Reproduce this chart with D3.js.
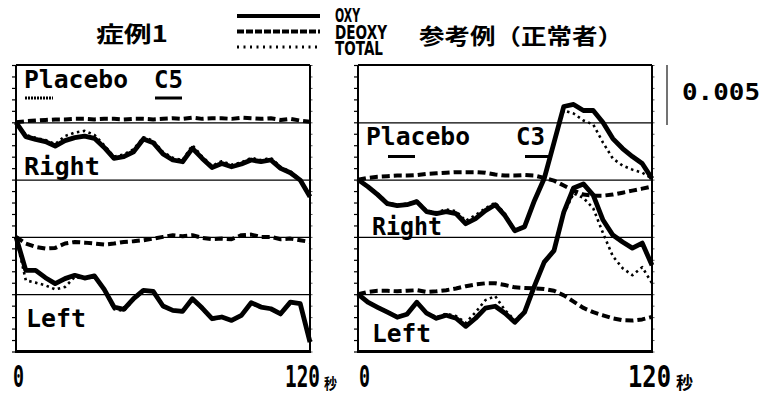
<!DOCTYPE html>
<html>
<head>
<meta charset="utf-8">
<script src="https://cdn.jsdelivr.net/npm/d3@7"></script>
<style>
  body { margin: 0; background: #fff; }
  svg { display: block; }
</style>
</head>
<body>
<svg id="chart" width="762" height="393"></svg>
<script>
// time axis (seconds), every 4 s
const times = [0, 4, 8, 12, 16, 20, 24, 28, 32, 36, 40, 44, 48, 52, 56, 60,
  64, 68, 72, 76, 80, 84, 88, 92, 96, 100, 104, 108, 112, 116, 120]

// values in units of 0.001, relative to each trace's baseline
// 症例1 - Right
const case1RightOxy = [0, -1.25, -1.49, -1.69, -2.07, -1.60, -1.34, -1.20, -1.40, -2.19, -3.15, -3.00, -2.57, -1.46, -1.78, -2.77,
  -3.29, -3.44, -2.27, -3.15, -3.94, -3.59, -3.88, -3.64, -3.29, -3.44, -3.29, -4.02, -4.40, -5.04, -6.50]
const case1RightDeoxy = [0, 0.1, 0.15, 0.2, 0.25, 0.25, 0.3, 0.3, 0.25, 0.3, 0.3, 0.25, 0.3, 0.3, 0.25, 0.3,
  0.35, 0.3, 0.4, 0.3, 0.35, 0.35, 0.3, 0.4, 0.35, 0.3, 0.35, 0.2, 0.3, 0.15, 0.05]
const case1RightTotal = [0, -1.1, -1.35, -1.55, -1.9, -1.2, -0.9, -0.75, -1.1, -2.0, -3.0, -2.8, -2.35, -1.3, -1.6, -2.6,
  -3.1, -3.3, -2.0, -3.0, -3.8, -3.4, -3.7, -3.5, -3.1, -3.3, -3.1, -3.9, -4.3, -5.0, -6.4]
// 症例1 - Left
const case1LeftOxy = [0, -2.92, -2.92, -3.56, -4.08, -3.64, -3.35, -3.59, -3.4, -4.58, -6.12, -6.33, -5.39, -4.66, -4.75, -6.03,
  -6.41, -6.50, -5.39, -6.21, -7.14, -6.99, -7.29, -6.85, -5.74, -6.12, -6.27, -6.71, -5.69, -5.83, -9.18]
const case1LeftDeoxy = [0, -0.58, -0.87, -1.02, -0.96, -0.58, -0.44, -0.5, -0.58, -0.67, -0.58, -0.44, -0.38, -0.29, -0.15, 0,
  0.15, 0.06, 0.15, -0.09, -0.2, -0.15, -0.2, 0.15, 0.2, 0, 0, -0.2, -0.15, -0.29, -0.44]
const case1LeftTotal = [0, -3.79, -3.99, -4.23, -4.58, -4.37, -3.5, -3.65, -3.5, -4.65, -6.3, -6.45, -5.5, -4.7, -4.8, -6.1,
  -6.45, -6.55, -5.45, -6.3, -7.2, -7.05, -7.3, -6.9, -5.8, -6.2, -6.3, -6.8, -5.75, -5.9, -9.1]
// 参考例 - Right
const refRightOxy = [0, -0.61, -1.31, -2.10, -2.27, -2.19, -1.92, -2.80, -2.97, -2.80, -2.97, -3.85, -3.41, -2.71, -2.19, -3.15,
  -4.46, -4.11, -1.84, 0.09, 3.23, 6.38, 6.56, 6.03, 6.03, 4.98, 3.58, 2.71, 2.01, 1.40, 0.09]
const refRightDeoxy = [0, 0.15, 0.25, 0.3, 0.35, 0.35, 0.4, 0.5, 0.55, 0.6, 0.65, 0.65, 0.65, 0.6, 0.45, 0.35,
  0.35, 0.4, 0.35, 0.15, -0.09, -0.52, -0.96, -1.31, -1.40, -1.40, -1.31, -1.14, -0.96, -0.79, -0.61]
const refRightTotal = [0, -0.55, -1.2, -2.0, -2.2, -2.1, -1.85, -2.7, -2.85, -2.6, -2.75, -3.6, -3.1, -2.5, -2.0, -3.0,
  -4.4, -4.05, -1.8, 0.1, 3.2, 6.03, 5.77, 5.16, 4.81, 3.23, 1.84, 1.22, 0.87, 0.61, 0.09]
// 参考例 - Left
const refLeftOxy = [0, -0.70, -1.14, -1.57, -2.01, -1.75, -0.70, -1.66, -2.10, -1.84, -2.10, -2.80, -2.10, -1.22, -1.05, -1.66,
  -2.45, -1.57, 0.70, 2.80, 3.8, 7.17, 9.27, 9.62, 8.65, 6.47, 5.16, 4.55, 4.02, 4.46, 2.53]
const refLeftDeoxy = [0, 0.2, 0.3, 0.3, 0.25, 0.3, 0.35, 0.2, 0.25, 0.35, 0.5, 0.7, 0.85, 0.95, 0.95, 0.8,
  0.6, 0.55, 0.5, 0.45, 0.3, -0.1, -0.65, -1.2, -1.57, -1.84, -2.1, -2.27, -2.3, -2.2, -1.98]
const refLeftTotal = [0, -0.65, -1.1, -1.5, -1.95, -1.7, -0.75, -1.6, -2.0, -1.7, -1.9, -2.5, -1.57, -0.52, -0.17, -1.40,
  -2.27, -1.5, 0.7, 2.8, 3.8, 7.0, 8.8, 8.4, 7.5, 5.33, 3.32, 2.27, 1.66, 2.36, 0.96]

const legendLabels = ['OXY', 'DEOXY', 'TOTAL']
const scaleValue = '0.005'

const svg = d3.select('#chart')
const plotTop = 65
const plotBottom = 351.5
const mono = '"DejaVu Sans Mono", monospace'
const cjk = '"Noto Sans CJK JP", sans-serif'

// y in units of 0.001, 5 bands of 5 units
const y = d3.scaleLinear().domain([0, 25]).range([plotBottom, plotTop])

const styles = {
  total: { width: 2.6, dash: '2.5 3.5' },
  deoxy: { width: 4, dash: '8 4' },
  oxy: { width: 4.8, dash: null }
}

const panels = [
  {
    x0: 16, x1: 310,
    traces: [
      { base: 20, oxy: case1RightOxy, deoxy: case1RightDeoxy, total: case1RightTotal },
      { base: 10, oxy: case1LeftOxy, deoxy: case1LeftDeoxy, total: case1LeftTotal }
    ]
  },
  {
    x0: 358, x1: 652,
    traces: [
      { base: 15, oxy: refRightOxy, deoxy: refRightDeoxy, total: refRightTotal },
      { base: 5, oxy: refLeftOxy, deoxy: refLeftDeoxy, total: refLeftTotal }
    ]
  }
]

function label(txt, x, yy, size, len, family, weight) {
  return svg.append('text')
    .attr('x', x)
    .attr('y', yy)
    .attr('font-family', family || mono)
    .attr('font-weight', weight || 'bold')
    .attr('font-size', size)
    .attr('textLength', len)
    .attr('lengthAdjust', 'spacingAndGlyphs')
    .attr('fill', '#000')
    .text(txt)
}

panels.forEach(p => {
  const x = d3.scaleLinear().domain([0, 120]).range([p.x0, p.x1])
  const w = p.x1 - p.x0

  // gridlines
  svg.append('g')
    .attr('transform', `translate(${p.x0},0)`)
    .call(d3.axisLeft(y).tickValues([5, 10, 15, 20]).tickSize(-w).tickFormat(''))
    .call(g => g.select('.domain').remove())
    .selectAll('line').attr('stroke', '#000').attr('stroke-width', 1.2)

  // small ticks on left edge
  svg.append('g')
    .attr('transform', `translate(${p.x0},0)`)
    .call(d3.axisLeft(y).tickValues(d3.range(0, 26)).tickSize(4).tickFormat(''))
    .call(g => g.select('.domain').remove())
    .selectAll('line').attr('stroke', '#000').attr('stroke-width', 1.2)

  // small ticks on right edge
  svg.append('g')
    .attr('transform', `translate(${p.x1},0)`)
    .call(d3.axisRight(y).tickValues(d3.range(0, 26)).tickSize(2.5).tickFormat(''))
    .call(g => g.select('.domain').remove())
    .selectAll('line').attr('stroke', '#555').attr('stroke-width', 1)

  // traces
  p.traces.forEach(t => {
    ['total', 'deoxy', 'oxy'].forEach(k => {
      const line = d3.line()
        .x((d, i) => x(times[i]))
        .y(d => y(t.base + d))
      svg.append('path')
        .datum(t[k])
        .attr('d', line)
        .attr('fill', 'none')
        .attr('stroke', '#000')
        .attr('stroke-width', styles[k].width)
        .attr('stroke-dasharray', styles[k].dash)
        .attr('stroke-linejoin', 'round')
    })
  })

  // frame
  svg.append('line').attr('x1', p.x0).attr('x2', p.x1).attr('y1', plotTop).attr('y2', plotTop)
    .attr('stroke', '#000').attr('stroke-width', 2)
  svg.append('line').attr('x1', p.x0 - 1).attr('x2', p.x1 + 1).attr('y1', plotBottom).attr('y2', plotBottom)
    .attr('stroke', '#000').attr('stroke-width', 2.8)
  svg.append('line').attr('x1', p.x0).attr('x2', p.x0).attr('y1', plotTop).attr('y2', plotBottom)
    .attr('stroke', '#000').attr('stroke-width', 2)
  svg.append('line').attr('x1', p.x1).attr('x2', p.x1).attr('y1', plotTop).attr('y2', plotBottom)
    .attr('stroke', '#000').attr('stroke-width', 2)
})

// panel labels - 症例1
label('Placebo', 24, 88, 24, 104)
label('C5', 154, 88, 24, 29)
svg.append('line').attr('x1', 25).attr('x2', 53).attr('y1', 98).attr('y2', 98)
  .attr('stroke', '#000').attr('stroke-width', 3).attr('stroke-dasharray', '2 1')
svg.append('line').attr('x1', 155).attr('x2', 182).attr('y1', 98).attr('y2', 98)
  .attr('stroke', '#000').attr('stroke-width', 3)
label('Right', 24, 175, 24, 76)
label('Left', 26, 327, 24, 60)

// panel labels - 参考例
label('Placebo', 366, 145, 24, 104)
label('C3', 516, 145, 24, 29)
svg.append('line').attr('x1', 388).attr('x2', 415).attr('y1', 156.5).attr('y2', 156.5)
  .attr('stroke', '#000').attr('stroke-width', 3)
svg.append('line').attr('x1', 525).attr('x2', 550).attr('y1', 156.5).attr('y2', 156.5)
  .attr('stroke', '#000').attr('stroke-width', 3)
label('Right', 372, 235, 24, 70)
label('Left', 372, 342, 24, 59)

// titles
label('症例1', 96, 42, 22, 72, cjk, 'bold')
label('参考例（正常者）', 419, 44, 22, 204, cjk, 'bold')

// legend
const legendKeys = ['oxy', 'deoxy', 'total']
const legendY = d3.scalePoint().domain(legendKeys).range([16, 47])
const legendBase = { OXY: 22, DEOXY: 39, TOTAL: 55 }
const legendLen = { OXY: 25, DEOXY: 52, TOTAL: 48 }
legendKeys.forEach((k, i) => {
  svg.append('line')
    .attr('x1', 237).attr('x2', 320)
    .attr('y1', legendY(k)).attr('y2', legendY(k))
    .attr('stroke', '#000')
    .attr('stroke-width', k === 'total' ? 3 : 4)
    .attr('stroke-dasharray', k === 'oxy' ? null : (k === 'deoxy' ? '7 2' : '2 4.5'))
  const name = legendLabels[i]
  label(name, 335, legendBase[name], 20, legendLen[name], '"DejaVu Sans", sans-serif')
})

// scale bar
svg.append('line').attr('x1', 667).attr('x2', 667).attr('y1', 65).attr('y2', 125)
  .attr('stroke', '#444').attr('stroke-width', 1.5)
label(scaleValue, 682, 100, 23, 78)

// x labels
label('0', 13, 387, 30, 11)
label('120', 285, 387, 30, 35)
label('秒', 324, 389, 15, 13, cjk, 'bold')
label('0', 359, 387, 30, 11)
label('120', 628, 387, 30, 43)
label('秒', 676, 389, 17, 17, cjk, 'bold')
</script>
</body>
</html>
